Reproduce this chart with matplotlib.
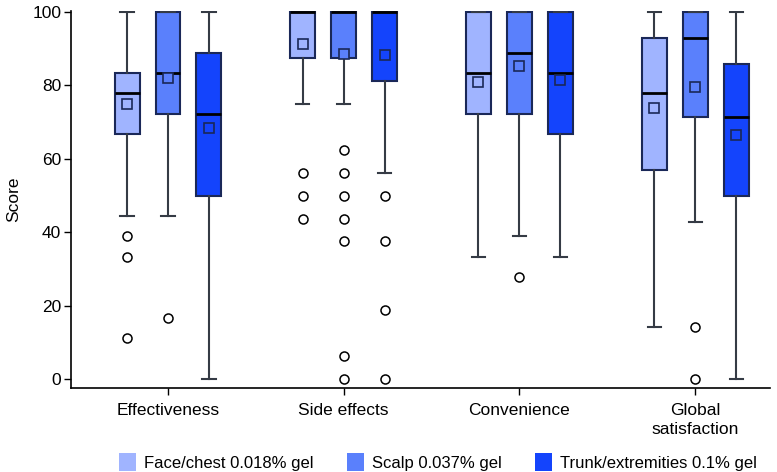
import matplotlib
matplotlib.use("Agg")
import matplotlib.pyplot as plt
from matplotlib.patches import Patch

plt.rcParams['font.family'] = ['Liberation Sans', 'DejaVu Sans']

categories = ["Effectiveness", "Side effects", "Convenience", "Global\nsatisfaction"]
groups = ["Face/chest 0.018% gel", "Scalp 0.037% gel", "Trunk/extremities 0.1% gel"]
colors = ["#a0b4ff", "#5a80fc", "#1444fc"]

# per group: lists over categories
whislo = [
    [44.4, 75.0, 33.3, 14.3],
    [44.4, 75.0, 38.9, 42.9],
    [0.0, 56.25, 33.3, 0.0],
]
q1 = [
    [66.7, 87.5, 72.2, 56.9],
    [72.2, 87.5, 72.2, 71.4],
    [50.0, 81.25, 66.7, 50.0],
]
med = [
    [77.8, 100.0, 83.3, 77.8],
    [83.3, 100.0, 88.9, 92.9],
    [72.2, 100.0, 83.3, 71.4],
]
q3 = [
    [83.3, 100.0, 100.0, 92.9],
    [100.0, 100.0, 100.0, 100.0],
    [88.9, 100.0, 100.0, 85.7],
]
whishi = [
    [100.0, 100.0, 100.0, 100.0],
    [100.0, 100.0, 100.0, 100.0],
    [100.0, 100.0, 100.0, 100.0],
]
means = [
    [75.0, 91.3, 80.9, 73.8],
    [82.0, 88.5, 85.3, 79.7],
    [68.4, 88.2, 81.5, 66.5],
]
fliers = [
    [[38.9, 33.3, 11.1], [56.25, 50.0, 43.75], [], []],
    [[16.7], [62.5, 56.25, 50.0, 43.75, 37.5, 6.25, 0.0], [27.8], [14.3, 0.0]],
    [[], [50.0, 37.5, 18.75, 0.0], [], []],
]

fig = plt.figure(figsize=(7.77, 4.72), dpi=100)
ax = fig.add_axes([0.0914, 0.178, 0.8996, 0.799])

offsets = [-0.233, 0.0, 0.233]
width = 0.142
edge = "#1a2858"
for g in range(3):
    stats = []
    for c in range(4):
        stats.append(dict(whislo=whislo[g][c], q1=q1[g][c], med=med[g][c],
                          q3=q3[g][c], whishi=whishi[g][c], mean=means[g][c],
                          fliers=fliers[g][c]))
    pos = [c + offsets[g] for c in range(4)]
    ax.bxp(stats, positions=pos, widths=width, capwidths=0.075,
           patch_artist=True, showmeans=True, manage_ticks=False,
           boxprops=dict(facecolor=colors[g], edgecolor=edge, linewidth=1.5),
           medianprops=dict(color="black", linewidth=2.0),
           whiskerprops=dict(color="#353b45", linewidth=1.5),
           capprops=dict(color="#353b45", linewidth=1.5),
           meanprops=dict(marker="s", markersize=7, markerfacecolor=colors[g],
                          markeredgecolor=edge, markeredgewidth=1.2),
           flierprops=dict(marker="o", markersize=6.5, markerfacecolor="white",
                           markeredgecolor="black", markeredgewidth=1.1))

ax.set_xlim(-0.552, 3.426)
ax.set_ylim(-2.4, 100.3)
ax.set_xticks(range(4))
ax.set_xticklabels(categories, fontsize=12.5, linespacing=1.3)
ax.set_yticks([0, 20, 40, 60, 80, 100])
ax.tick_params(axis='y', labelsize=12.5, length=5, width=1, pad=2)
ax.tick_params(axis='x', length=5, width=1, pad=6)
ax.set_ylabel("Score", fontsize=12.5, labelpad=8)
for s in ["top", "right"]:
    ax.spines[s].set_visible(False)
for s in ["left", "bottom"]:
    ax.spines[s].set_linewidth(1.2)

handles = [Patch(facecolor=colors[i], edgecolor='none', label=groups[i]) for i in range(3)]
fig.legend(handles=handles, loc="lower center", bbox_to_anchor=(0.564, -0.03), ncol=3,
           frameon=False, fontsize=12, handlelength=1.0, handleheight=1.3,
           columnspacing=2.0, handletextpad=0.5)

fig.savefig("out.png", dpi=100)
